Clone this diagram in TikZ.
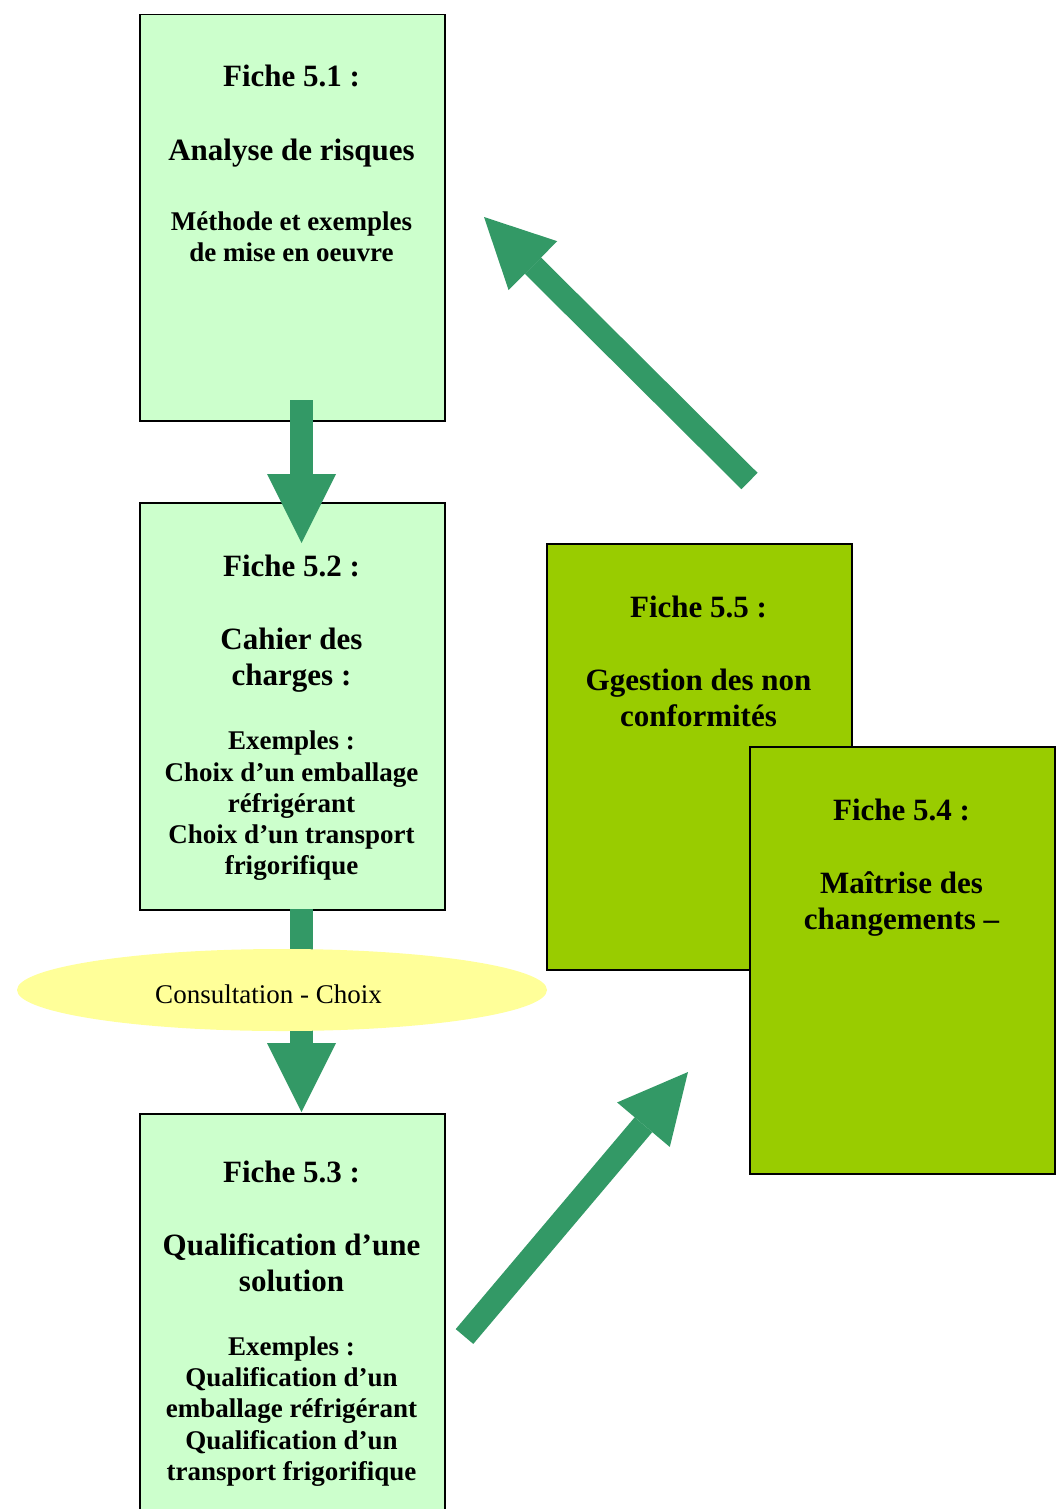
\documentclass[tikz,border=0pt]{standalone}
\usepackage{fontspec}
\setmainfont{Liberation Serif}
\usetikzlibrary{arrows.meta,shapes.geometric}
\definecolor{paleGreen}{HTML}{CCFFCC}
\definecolor{ficheOlive}{HTML}{99CC00}
\definecolor{arrowGreen}{HTML}{339966}
\definecolor{paleYellow}{HTML}{FFFF99}
\begin{document}
\begin{tikzpicture}[x=1pt,y=-1pt,
  fichebox/.style={draw=black, line width=1.5pt, inner sep=0pt, anchor=north west,
    minimum width=305pt, minimum height=406pt},
  lightbox/.style={fichebox, fill=paleGreen},
  darkbox/.style={fichebox, fill=ficheOlive, minimum height=426pt},
  titletext/.style={anchor=base, inner sep=0pt, font=\bfseries\fontsize{31}{36}\selectfont},
  bodytext/.style={anchor=base, inner sep=0pt, font=\bfseries\fontsize{27}{31}\selectfont},
  bigarrow/.style={draw=arrowGreen, line width=23pt,
    -{Triangle[length=69pt,width=69pt,line width=0pt]}}]
\useasboundingbox (0,0) rectangle (1057,1509);

% left column: fiches 5.1 and 5.2
\node[lightbox] (f51) at (139,14) {};
\node[lightbox, minimum height=407pt] (f52) at (139,502) {};

\node[titletext] (t51a) at (291.5,87) {Fiche 5.1 :};
\node[titletext] (t51b) at (291.5,160) {Analyse de risques};
\node[bodytext] (t51c) at (291.5,230) {Méthode et exemples};
\node[bodytext] (t51d) at (291.5,261) {de mise en oeuvre};

\node[titletext] (t52a) at (291.5,576) {Fiche 5.2 :};
\node[titletext] (t52b) at (291.5,649) {Cahier des};
\node[titletext] (t52c) at (291.5,685) {charges :};
\node[bodytext] (t52d) at (291.5,749) {Exemples :};
\node[bodytext] (t52e) at (291.5,781) {Choix d’un emballage};
\node[bodytext] (t52f) at (291.5,812) {réfrigérant};
\node[bodytext] (t52g) at (291.5,843) {Choix d’un transport};
\node[bodytext] (t52h) at (291.5,874) {frigorifique};

% arrow 5.1 -> 5.2
\coordinate (a1s) at (301.5,400);
\coordinate (a1e) at (301.5,543);
\draw[bigarrow] (a1s) -- (a1e);

% fiche 5.3
\node[lightbox, minimum height=420pt] (f53) at (139,1113) {};
\node[titletext] (t53a) at (291.5,1182) {Fiche 5.3 :};
\node[titletext] (t53b) at (291.5,1255) {Qualification d’une};
\node[titletext] (t53c) at (291.5,1291) {solution};
\node[bodytext] (t53d) at (291.5,1355) {Exemples :};
\node[bodytext] (t53e) at (291.5,1386) {Qualification d’un};
\node[bodytext] (t53f) at (291.5,1417) {emballage réfrigérant};
\node[bodytext] (t53g) at (291.5,1449) {Qualification d’un};
\node[bodytext] (t53h) at (291.5,1480) {transport frigorifique};

% arrow 5.2 -> 5.3 through the consultation step
\coordinate (a2s) at (301.5,909);
\coordinate (a2e) at (301.5,1112);
\draw[bigarrow] (a2s) -- (a2e);
\node[ellipse, fill=paleYellow, inner sep=0pt, minimum width=530pt, minimum height=82pt]
  (consult) at (282,990) {};
\node[anchor=base, inner sep=0pt, font=\fontsize{27}{31}\selectfont] (consulttxt)
  at (268.5,1003) {Consultation - Choix};

% right column: fiches 5.5 and 5.4
\node[darkbox, minimum height=426pt] (f55) at (546,543) {};
\node[titletext] (t55a) at (698.5,617) {Fiche 5.5 :};
\node[titletext] (t55b) at (698.5,690) {Ggestion des non};
\node[titletext] (t55c) at (698.5,726) {conformités};

\node[darkbox, minimum height=427pt] (f54) at (749,746) {};
\node[titletext] (t54a) at (901.5,820) {Fiche 5.4 :};
\node[titletext] (t54b) at (901.5,893) {Maîtrise des};
\node[titletext] (t54c) at (901.5,929) {changements –};

% return arrows
\coordinate (a3s) at (749.5,481);
\coordinate (a3e) at (484,217);
\draw[bigarrow] (a3s) -- (a3e);
\coordinate (a4s) at (464.5,1336.5);
\coordinate (a4e) at (688,1072);
\draw[bigarrow] (a4s) -- (a4e);
\end{tikzpicture}
\end{document}
